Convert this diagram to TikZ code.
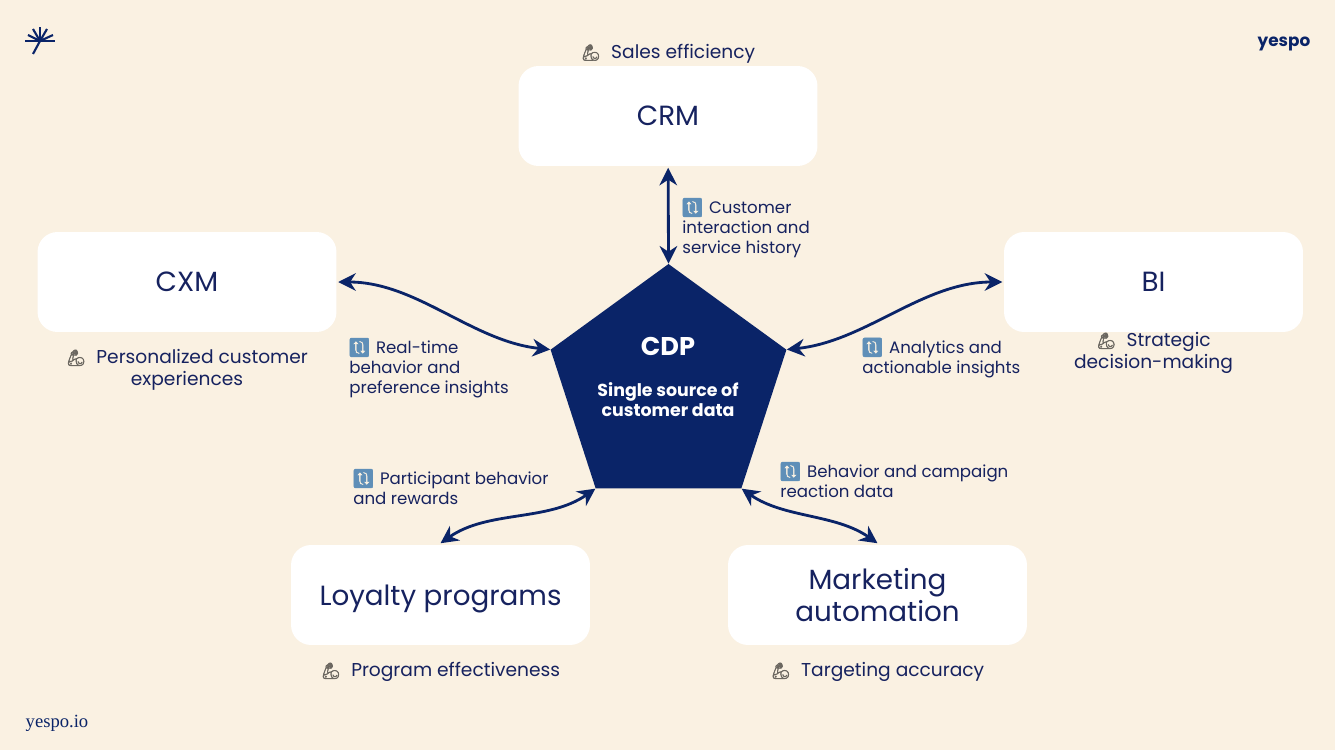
\documentclass[tikz,border=0pt]{standalone}
\usepackage{fontspec}
\usepackage{xcolor}
\usetikzlibrary{shapes.geometric,arrows.meta,positioning}
\setmainfont{Poppins}
\newfontfamily\emojifont[FakeBold=2.5,Scale=0.85]{Noto Emoji}
\newfontfamily\siteFont{Liberation Serif}
\definecolor{pagebg}{HTML}{FAF1E2}
\definecolor{navy}{HTML}{0A2468}
\definecolor{inktext}{HTML}{16225F}
\definecolor{armgray}{HTML}{6B6760}
\definecolor{syncblue}{HTML}{5F8FB8}
\newcommand{\armicon}{{\emojifont\textcolor{armgray}{🦾}}\hspace{0.55em}}
\newcommand{\syncicon}{\hspace{-1pt}{\emojifont\fontsize{12.4}{11.3}\selectfont\textcolor{syncblue}{🔃}}\hspace{0.3em}}

\begin{document}
\begin{tikzpicture}[
    x=0.02cm, y=-0.02cm,
    box/.style={rectangle, fill=white, rounded corners=0.4cm, minimum width=5.98cm, minimum height=2cm, align=center, text=inktext, font=\fontsize{15.8}{18.3}\selectfont, outer sep=1pt},
    gain/.style={align=center, inner sep=0pt, text=inktext, font=\fontsize{10.6}{12.5}\selectfont},
    flow/.style={align=left, anchor=west, inner sep=0pt, text=inktext, font=\fontsize{9.45}{11.3}\selectfont},
    arrow/.style={<->, >={Stealth[length=10pt,width=10pt]}, navy, line width=1.6pt}
]
\fill[pagebg] (0,0) rectangle (1335,750);

% logo and site name
\coordinate (logo) at (40,41);
\foreach \tipx/\tipy in {25/41, 55/41, 40/27, 33/29, 47/29, 28/35, 53/35, 33/54}
    \draw[navy, line width=1.2pt] (logo) -- (\tipx,\tipy);
\node[text=navy, font=\bfseries\fontsize{9.6}{11}\selectfont, inner sep=0pt] (brand) at (1284,44) {yespo};
\node[text=navy, font=\siteFont\fontsize{10.6}{12}\selectfont, inner sep=0pt] (site) at (57,723) {yespo.io};

% centre
\node[regular polygon, regular polygon sides=5, fill=navy, minimum size=4.96cm, inner sep=0pt] (cdp) at (668.5,388) {};
\node[text=white, font=\bfseries\fontsize{14.6}{16}\selectfont, inner sep=0pt] (cdptitle) at (668,346) {CDP};
\node[text=white, align=center, font=\bfseries\fontsize{9.9}{11.3}\selectfont, inner sep=0pt] (cdptext) at (668,400) {Single source of\\customer data};

% systems
\node[box] (crm) at (668,116) {CRM};
\node[box] (cxm) at (187,282) {CXM};
\node[box] (bi) at (1153.5,282) {BI};
\node[box, text depth=0pt] (loyalty) at (440.5,595) {Loyalty programs};
\node[box] (marketing) at (877.5,595) {Marketing\\automation};

% what each system gains
\node[gain, above=0.02cm of crm] (crmgain) {\armicon Sales efficiency};
\node[gain, below=0.3cm of cxm] (cxmgain) {\armicon Personalized customer\\experiences};
\node[gain, below=-0.04cm of bi] (bigain) {\armicon Strategic\\decision-making};
\node[gain, below=0.3cm of loyalty] (loyaltygain) {\armicon Program effectiveness};
\node[gain, below=0.3cm of marketing] (marketinggain) {\armicon Targeting accuracy};

% what flows along each link
\node[flow] (crmflow) at (682,228) {\syncicon Customer\\interaction and\\service history};
\node[flow] (cxmflow) at (349,368) {\syncicon Real-time\\behavior and\\preference insights};
\node[flow] (biflow) at (862,358) {\syncicon Analytics and\\actionable insights};
\node[flow] (loyaltyflow) at (353,487) {\syncicon Participant behavior\\and rewards};
\node[flow] (marketingflow) at (780,480) {\syncicon Behavior and campaign\\reaction data};

\draw[arrow] (crm) -- (cdp.corner 1);
\draw[arrow] (cxm.east) to[out=0, in=174, looseness=0.9] (cdp.corner 2);
\draw[arrow] (bi.west) to[out=180, in=6, looseness=0.9] (cdp.corner 5);
\draw[arrow] (loyalty.north) to[out=35, in=215, looseness=0.9] (cdp.corner 3);
\draw[arrow] (marketing.north) to[out=145, in=-35, looseness=0.9] (cdp.corner 4);
\end{tikzpicture}
\end{document}
